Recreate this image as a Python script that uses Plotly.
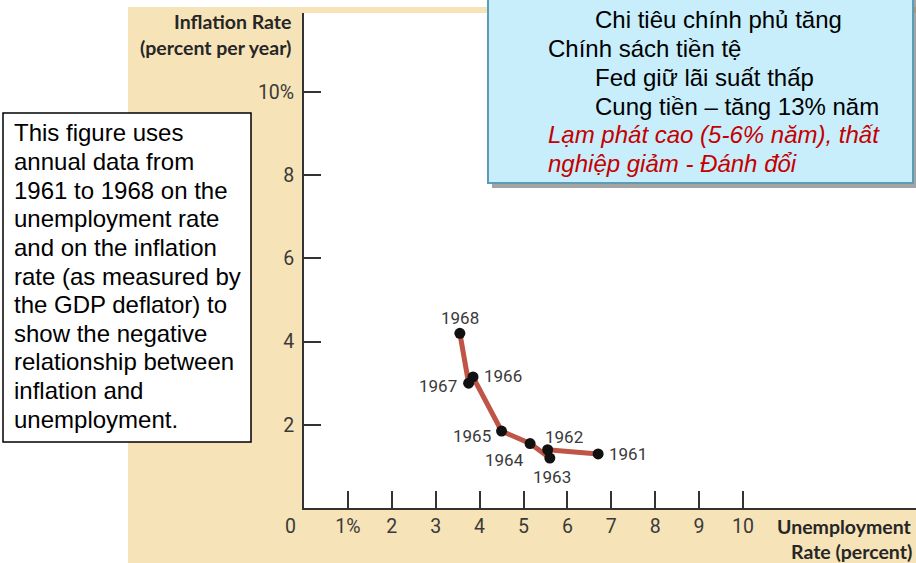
import plotly.graph_objects as go

# Phillips-curve data, 1961-1968
years = ["1961", "1962", "1963", "1964", "1965", "1966", "1967", "1968"]
unemployment = [6.7, 5.55, 5.6, 5.15, 4.5, 3.85, 3.75, 3.55]
inflation = [1.3, 1.4, 1.2, 1.55, 1.85, 3.15, 3.0, 4.2]

x_tickvals = [1, 2, 3, 4, 5, 6, 7, 8, 9, 10]
x_ticktext = ["1%", "2", "3", "4", "5", "6", "7", "8", "9", "10"]
y_tickvals = [2, 4, 6, 8, 10]
y_ticktext = ["2", "4", "6", "8", "10%"]

note_lines = [
    "This figure uses",
    "annual data from",
    "1961 to 1968 on the",
    "unemployment rate",
    "and on the inflation",
    "rate (as measured by",
    "the GDP deflator) to",
    "show the negative",
    "relationship between",
    "inflation and",
    "unemployment.",
]

policy_lines = [
    ("Chi tiêu chính phủ tăng", 1, False),
    ("Chính sách tiền tệ", 0, False),
    ("Fed giữ lãi suất thấp", 1, False),
    ("Cung tiền – tăng 13% năm", 1, False),
    ("Lạm phát cao (5-6% năm), thất", 0, True),
    ("nghiệp giảm - Đánh đổi", 0, True),
]

W, H = 916, 563
AX_LEFT, AX_BOTTOM, AX_TOP = 304, 508, 13
X_UNIT, Y_UNIT = 43.9, 41.6

INK = "#3a3a3a"
NUM_FONT = "Liberation Sans Narrow, Roboto, Arial"
HEAD_FONT = "Lato, Open Sans, Arial"
BODY_FONT = "Arial, Liberation Sans, sans-serif"

# label placement around each point: (anchor x, anchor y, xshift, yshift)
label_place = {
    "1961": ("left", "middle", 9, 0),
    "1962": ("left", "middle", -5, 13),
    "1963": ("center", "middle", 2, -19),
    "1964": ("right", "middle", -4, -16),
    "1965": ("right", "middle", -9, -5),
    "1966": ("left", "middle", 9, 1),
    "1967": ("right", "middle", -10, -3),
    "1968": ("center", "middle", 0, 15),
}


def px(x):
    return x / W


def py(y):
    return 1 - y / H


fig = go.Figure()

fig.add_trace(go.Scatter(
    x=unemployment,
    y=inflation,
    mode="lines+markers",
    line=dict(color="#bf5547", width=5),
    marker=dict(color="#111111", size=11),
    hoverinfo="skip",
    showlegend=False,
))

annotations = []
for yr, ux, iy in zip(years, unemployment, inflation):
    xa, ya, dx, dy = label_place[yr]
    annotations.append(dict(
        x=ux, y=iy, xref="x", yref="y", text=yr, showarrow=False,
        xanchor=xa, yanchor=ya, xshift=dx, yshift=dy,
        font=dict(family=NUM_FONT, size=17, color=INK),
    ))

# origin label
annotations.append(dict(
    x=0, y=0, xref="x", yref="y", text="0", showarrow=False,
    xanchor="center", yanchor="middle", xshift=-14, yshift=-18,
    font=dict(family=NUM_FONT, size=19.5, color=INK),
))

# axis titles
for txt, yy in [("Inflation Rate", 22), ("(percent per year)", 48)]:
    annotations.append(dict(
        x=px(293), y=py(yy), xref="paper", yref="paper", text=f"<b>{txt}</b>",
        showarrow=False, xanchor="right", yanchor="middle",
        font=dict(family=HEAD_FONT, size=19.5, color="#262626"),
    ))
for txt, yy in [("Unemployment", 526), ("Rate (percent)", 551)]:
    annotations.append(dict(
        x=px(914), y=py(yy), xref="paper", yref="paper", text=f"<b>{txt}</b>",
        showarrow=False, xanchor="right", yanchor="middle",
        font=dict(family=HEAD_FONT, size=19.5, color="#262626"),
    ))

# explanatory note
for i, line in enumerate(note_lines):
    annotations.append(dict(
        x=px(12), y=py(133 + i * 28.6), xref="paper", yref="paper", text=line,
        showarrow=False, xanchor="left", yanchor="middle",
        font=dict(family=BODY_FONT, size=24, color="#000000"),
    ))

# policy callout
for i, (line, indent, red) in enumerate(policy_lines):
    txt = f"<i>{line}</i>" if red else line
    annotations.append(dict(
        x=px(593 if indent else 546), y=py(20 + i * 28.7), xref="paper", yref="paper",
        text=txt, showarrow=False, xanchor="left", yanchor="middle",
        font=dict(family=BODY_FONT, size=24, color="#c40000" if red else "#000000"),
    ))

shapes = [
    # beige panel
    dict(type="rect", xref="paper", yref="paper", x0=px(128), x1=px(W + 2),
         y0=py(H + 2), y1=py(7), fillcolor="#f6e3b8", line=dict(width=0), layer="below"),
    # white plotting area
    dict(type="rect", xref="paper", yref="paper", x0=px(AX_LEFT), x1=px(W + 2),
         y0=py(AX_BOTTOM), y1=py(AX_TOP), fillcolor="#ffffff", line=dict(width=0), layer="below"),
    # note box
    dict(type="rect", xref="paper", yref="paper", x0=px(3), x1=px(251),
         y0=py(442), y1=py(113), fillcolor="#ffffff", line=dict(color="#000000", width=1.5),
         layer="above"),
    # callout shadow
    dict(type="rect", xref="paper", yref="paper", x0=px(492), x1=px(917),
         y0=py(188), y1=py(-10), fillcolor="rgba(90,90,90,0.55)", line=dict(width=0),
         layer="above"),
    # callout box
    dict(type="rect", xref="paper", yref="paper", x0=px(488), x1=px(913),
         y0=py(183), y1=py(-10), fillcolor="#c8eefb", line=dict(color="#5b9db4", width=2),
         layer="above"),
]

fig.update_layout(
    width=W, height=H,
    margin=dict(l=0, r=0, t=0, b=0),
    paper_bgcolor="#ffffff",
    plot_bgcolor="rgba(0,0,0,0)",
    showlegend=False,
    shapes=shapes,
    annotations=annotations,
    xaxis=dict(
        domain=[px(AX_LEFT), 1],
        range=[0, (W - AX_LEFT) / X_UNIT],
        tickvals=x_tickvals, ticktext=x_ticktext,
        ticks="inside", ticklen=17, tickwidth=2, tickcolor="#333333",
        showline=True, linecolor="#333333", linewidth=2,
        showgrid=False, zeroline=False,
        tickfont=dict(family=NUM_FONT, size=19.5, color=INK),
        fixedrange=True,
    ),
    yaxis=dict(
        domain=[py(AX_BOTTOM), py(AX_TOP)],
        range=[0, (AX_BOTTOM - AX_TOP) / Y_UNIT],
        tickvals=y_tickvals, ticktext=y_ticktext,
        ticks="inside", ticklen=17, tickwidth=2, tickcolor="#333333",
        showline=True, linecolor="#333333", linewidth=2,
        showgrid=False, zeroline=False,
        ticklabelstandoff=4,
        tickfont=dict(family=NUM_FONT, size=19.5, color=INK),
        fixedrange=True,
    ),
)

fig.write_html("out.html")
